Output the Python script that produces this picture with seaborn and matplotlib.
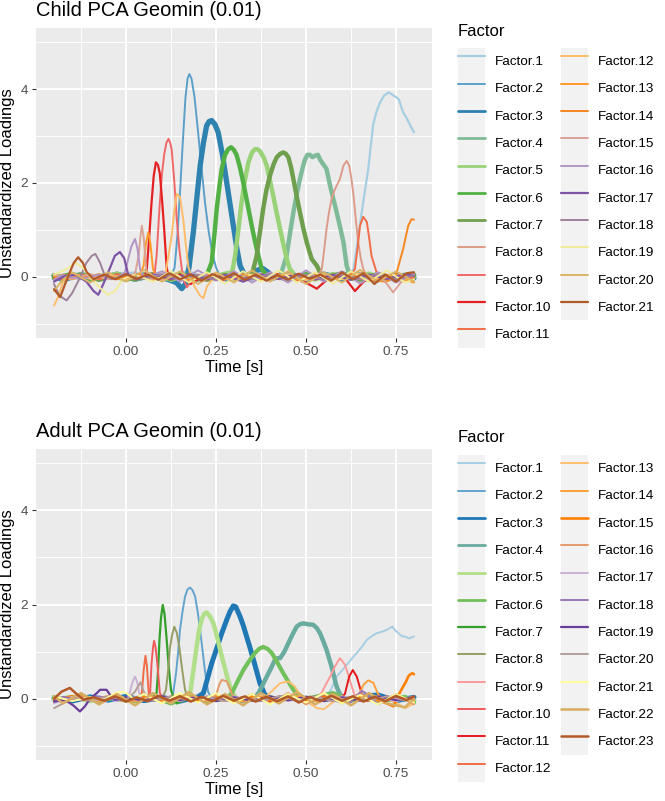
"""Child vs adult PCA Geomin loadings over time."""

import matplotlib

matplotlib.use("Agg")
import matplotlib.pyplot as plt
import numpy as np
import pandas as pd
import seaborn as sns
from matplotlib.legend_handler import HandlerTuple
from matplotlib.lines import Line2D
from matplotlib.patches import Rectangle

# ggplot "Paired" brewer palette, stretched to the number of factors
PAIRED = ["#A6CEE3", "#1F78B4", "#B2DF8A", "#33A02C", "#FB9A99", "#E31A1C",
          "#FDBF6F", "#FF7F00", "#CAB2D6", "#6A3D9A", "#FFFF99", "#B15928"]

# (time [s], loading), one list per factor
child_loadings = [
    # Factor.1
    [(-0.2, 0.05), (-0.175, -0.04), (-0.125, 0.08), (-0.075, -0.06), (-0.025, 0.04), (0.025, 0.1),
     (0.075, -0.05), (0.125, 0.06), (0.175, 0.12), (0.225, -0.04), (0.275, 0.07), (0.325, -0.06),
     (0.375, 0.09), (0.425, -0.03), (0.475, 0.06), (0.525, -0.07), (0.575, 0.05), (0.61, -0.02),
     (0.632, 0.17), (0.643, 0.75), (0.655, 1.38), (0.664, 1.85), (0.673, 2.3), (0.68, 2.8),
     (0.687, 3.26), (0.696, 3.52), (0.706, 3.72), (0.717, 3.86), (0.729, 3.93), (0.736, 3.9),
     (0.743, 3.86), (0.75, 3.83), (0.757, 3.79), (0.763, 3.66), (0.77, 3.5), (0.78, 3.38),
     (0.79, 3.22), (0.8, 3.08)],
    # Factor.2
    [(-0.2, 0.0), (-0.15, 0.07), (-0.1, -0.05), (-0.05, 0.06), (0.0, -0.04), (0.05, 0.08),
     (0.1, -0.06), (0.125, 0.02), (0.135, 0.2), (0.143, 0.9), (0.15, 1.8), (0.158, 2.9),
     (0.165, 3.8), (0.171, 4.22), (0.176, 4.32), (0.182, 4.22), (0.19, 3.85), (0.2, 3.1),
     (0.21, 2.3), (0.22, 1.55), (0.23, 0.95), (0.24, 0.5), (0.25, 0.2), (0.26, 0.03),
     (0.28, -0.1), (0.3, 0.04), (0.35, -0.06), (0.4, 0.08), (0.45, -0.05), (0.5, 0.06),
     (0.55, -0.08), (0.6, 0.05), (0.65, -0.04), (0.7, 0.08), (0.75, -0.05), (0.8, 0.03)],
    # Factor.3
    [(-0.2, 0.02), (-0.175, -0.06), (-0.125, 0.05), (-0.075, -0.04), (-0.025, 0.06), (0.025, -0.05),
     (0.075, 0.04), (0.115, -0.05), (0.14, -0.12), (0.155, -0.25), (0.165, -0.15), (0.175, 0.2),
     (0.187, 0.95), (0.197, 1.7), (0.206, 2.37), (0.215, 2.85), (0.224, 3.22), (0.231, 3.31),
     (0.238, 3.33), (0.247, 3.25), (0.256, 3.08), (0.268, 2.6), (0.28, 2.0), (0.29, 1.5),
     (0.298, 1.1), (0.308, 0.6), (0.317, 0.24), (0.33, 0.03), (0.345, 0.06), (0.36, 0.13),
     (0.38, 0.18), (0.395, 0.1), (0.41, -0.02), (0.45, 0.05), (0.5, -0.05), (0.55, 0.06),
     (0.6, -0.04), (0.65, 0.05), (0.7, -0.06), (0.75, 0.04), (0.8, -0.02)],
    # Factor.4
    [(-0.2, -0.03), (-0.15, 0.05), (-0.1, -0.06), (-0.05, 0.04), (0.0, -0.02), (0.05, 0.06),
     (0.1, -0.05), (0.15, 0.04), (0.2, -0.06), (0.25, 0.05), (0.3, -0.04), (0.35, 0.06),
     (0.4, -0.05), (0.43, 0.05), (0.446, 0.45), (0.455, 0.9), (0.465, 1.38), (0.474, 1.75),
     (0.483, 2.08), (0.49, 2.3), (0.497, 2.5), (0.504, 2.6), (0.511, 2.6), (0.518, 2.55),
     (0.525, 2.58), (0.533, 2.6), (0.539, 2.5), (0.546, 2.42), (0.557, 2.3), (0.567, 1.94),
     (0.576, 1.66), (0.585, 1.38), (0.595, 1.05), (0.604, 0.74), (0.613, 0.24), (0.622, 0.02),
     (0.65, -0.06), (0.7, 0.05), (0.75, -0.04), (0.8, 0.04)],
    # Factor.5
    [(-0.2, 0.04), (-0.175, -0.05), (-0.125, 0.06), (-0.075, -0.03), (-0.025, 0.07), (0.025, -0.05),
     (0.075, 0.05), (0.125, -0.06), (0.175, 0.04), (0.225, -0.05), (0.27, 0.06), (0.295, 0.1),
     (0.303, 0.45), (0.312, 1.0), (0.321, 1.59), (0.33, 2.05), (0.34, 2.44), (0.35, 2.65),
     (0.358, 2.72), (0.365, 2.72), (0.372, 2.68), (0.382, 2.55), (0.391, 2.37), (0.4, 2.05),
     (0.409, 1.73), (0.418, 1.38), (0.428, 1.02), (0.437, 0.7), (0.446, 0.4), (0.455, 0.17),
     (0.47, 0.03), (0.525, -0.05), (0.575, 0.06), (0.625, -0.04), (0.675, 0.07), (0.725, -0.05),
     (0.775, 0.05), (0.8, 0.0)],
    # Factor.6
    [(-0.2, -0.02), (-0.15, 0.06), (-0.1, -0.04), (-0.05, 0.05), (0.0, -0.06), (0.05, 0.04),
     (0.1, -0.05), (0.15, 0.06), (0.2, -0.03), (0.225, 0.05), (0.238, 0.31), (0.245, 0.85),
     (0.252, 1.45), (0.259, 1.9), (0.266, 2.3), (0.275, 2.6), (0.284, 2.72), (0.292, 2.76),
     (0.3, 2.7), (0.307, 2.6), (0.316, 2.35), (0.326, 2.0), (0.335, 1.65), (0.344, 1.3),
     (0.353, 0.95), (0.363, 0.6), (0.377, 0.17), (0.39, 0.04), (0.45, -0.05), (0.5, 0.06),
     (0.55, -0.04), (0.6, 0.08), (0.65, -0.05), (0.7, 0.06), (0.75, -0.04), (0.8, 0.05)],
    # Factor.7
    [(-0.2, 0.03), (-0.175, -0.04), (-0.125, 0.05), (-0.075, -0.06), (-0.025, 0.04), (0.025, -0.05),
     (0.075, 0.06), (0.125, -0.04), (0.175, 0.05), (0.225, -0.06), (0.275, 0.04), (0.325, -0.03),
     (0.35, 0.05), (0.363, 0.45), (0.372, 0.95), (0.381, 1.45), (0.39, 1.85), (0.4, 2.16),
     (0.41, 2.4), (0.419, 2.55), (0.428, 2.62), (0.437, 2.65), (0.444, 2.62), (0.451, 2.55),
     (0.458, 2.35), (0.465, 2.08), (0.474, 1.72), (0.483, 1.38), (0.493, 1.02), (0.502, 0.74),
     (0.509, 0.55), (0.516, 0.38), (0.53, 0.24), (0.539, 0.1), (0.55, 0.0), (0.6, 0.06),
     (0.65, -0.05), (0.7, 0.05), (0.75, -0.06), (0.8, 0.03)],
    # Factor.8
    [(-0.2, -0.05), (-0.15, 0.04), (-0.1, -0.02), (-0.05, 0.07), (0.0, -0.05), (0.05, 0.05),
     (0.1, -0.07), (0.15, 0.04), (0.2, -0.04), (0.25, 0.06), (0.3, -0.05), (0.35, 0.05),
     (0.4, -0.03), (0.45, 0.06), (0.5, -0.05), (0.535, 0.03), (0.544, 0.17), (0.55, 0.55),
     (0.557, 1.02), (0.564, 1.38), (0.571, 1.66), (0.578, 1.82), (0.585, 1.94), (0.594, 2.08),
     (0.6, 2.25), (0.604, 2.37), (0.613, 2.47), (0.62, 2.37), (0.626, 2.1), (0.632, 1.73),
     (0.638, 1.25), (0.645, 0.74), (0.652, 0.4), (0.659, 0.17), (0.669, 0.0), (0.7, -0.06),
     (0.75, 0.05), (0.8, -0.04)],
    # Factor.9
    [(-0.2, 0.06), (-0.175, -0.03), (-0.125, 0.05), (-0.075, -0.05), (-0.025, 0.06), (0.025, -0.04),
     (0.06, 0.05), (0.075, 0.02), (0.08, 0.1), (0.085, 0.45), (0.094, 1.59), (0.1, 2.2),
     (0.106, 2.6), (0.112, 2.85), (0.118, 2.94), (0.123, 2.85), (0.127, 2.7), (0.134, 2.05),
     (0.141, 1.23), (0.148, 0.6), (0.155, 0.17), (0.162, -0.1), (0.169, -0.22), (0.18, -0.1),
     (0.2, 0.05), (0.25, -0.06), (0.3, 0.05), (0.35, -0.04), (0.4, 0.06), (0.45, -0.05),
     (0.5, 0.04), (0.55, -0.06), (0.6, 0.05), (0.65, -0.05), (0.7, 0.06), (0.75, -0.04), (0.8, 0.05)],
    # Factor.10
    [(-0.2, -0.04), (-0.15, 0.05), (-0.1, -0.03), (-0.05, 0.06), (0.0, -0.04), (0.03, 0.05),
     (0.05, 0.02), (0.057, 0.1), (0.064, 0.8), (0.071, 1.59), (0.077, 2.15), (0.083, 2.44),
     (0.089, 2.38), (0.094, 2.2), (0.1, 1.65), (0.106, 1.02), (0.113, 0.2), (0.12, -0.05),
     (0.15, 0.05), (0.18, -0.15), (0.22, 0.04), (0.27, -0.06), (0.32, 0.05), (0.37, -0.04),
     (0.42, 0.06), (0.47, -0.05), (0.5, -0.12), (0.53, -0.25), (0.56, -0.05), (0.6, 0.06),
     (0.636, -0.3), (0.66, -0.1), (0.7, 0.05), (0.75, -0.06), (0.8, 0.04)],
    # Factor.11
    [(-0.2, 0.03), (-0.175, -0.06), (-0.125, 0.04), (-0.075, -0.05), (-0.025, 0.05), (0.025, -0.03),
     (0.075, 0.06), (0.125, -0.05), (0.175, 0.04), (0.225, -0.06), (0.275, 0.05), (0.325, -0.04),
     (0.375, 0.06), (0.425, -0.05), (0.475, 0.04), (0.525, -0.06), (0.575, 0.05), (0.62, -0.03),
     (0.636, 0.17), (0.643, 0.6), (0.65, 1.09), (0.659, 1.28), (0.669, 1.17), (0.676, 0.8),
     (0.682, 0.45), (0.696, 0.1), (0.72, -0.05), (0.76, 0.06), (0.8, -0.03)],
    # Factor.12
    [(-0.2, -0.61), (-0.19, -0.45), (-0.175, -0.1), (-0.15, 0.08), (-0.1, -0.04), (-0.05, 0.05),
     (0.0, -0.06), (0.05, 0.04), (0.1, -0.03), (0.11, 0.1), (0.118, 0.45), (0.127, 0.88),
     (0.134, 1.4), (0.141, 1.77), (0.15, 1.7), (0.159, 1.23), (0.166, 0.7), (0.173, 0.22),
     (0.19, -0.2), (0.206, -0.4), (0.215, -0.45), (0.225, -0.2), (0.25, 0.05), (0.3, -0.06),
     (0.35, 0.05), (0.4, -0.04), (0.45, 0.06), (0.5, -0.07), (0.55, 0.05), (0.6, -0.05),
     (0.65, 0.08), (0.7, -0.05), (0.75, 0.05), (0.8, -0.1)],
    # Factor.13
    [(-0.2, 0.02), (-0.15, -0.05), (-0.1, 0.05), (-0.05, -0.04), (0.0, 0.06), (0.035, -0.03),
     (0.049, 0.24), (0.055, 0.7), (0.062, 0.95), (0.068, 0.7), (0.075, 0.17), (0.085, -0.05),
     (0.125, 0.05), (0.175, -0.06), (0.225, 0.04), (0.275, -0.05), (0.325, 0.06), (0.375, -0.04),
     (0.425, 0.05), (0.475, -0.06), (0.525, 0.04), (0.575, -0.05), (0.625, 0.06), (0.675, -0.04),
     (0.725, 0.05), (0.775, -0.06), (0.8, -0.12)],
    # Factor.14
    [(-0.2, -0.04), (-0.175, 0.05), (-0.125, -0.03), (-0.075, 0.06), (-0.025, -0.05), (0.025, 0.04),
     (0.075, -0.06), (0.125, 0.05), (0.175, -0.04), (0.225, 0.06), (0.275, -0.05), (0.325, 0.04),
     (0.375, -0.06), (0.425, 0.05), (0.475, -0.04), (0.525, 0.06), (0.575, -0.05), (0.625, 0.05),
     (0.675, -0.06), (0.72, -0.1), (0.742, -0.05), (0.752, 0.1), (0.761, 0.35), (0.77, 0.6),
     (0.777, 0.85), (0.784, 1.09), (0.793, 1.23), (0.8, 1.22)],
    # Factor.15
    [(-0.2, 0.05), (-0.15, -0.04), (-0.1, 0.06), (-0.05, -0.05), (-0.01, 0.04), (0.02, 0.05),
     (0.026, 0.1), (0.035, 0.45), (0.04, 0.85), (0.044, 1.09), (0.049, 0.85), (0.053, 0.45),
     (0.057, 0.1), (0.07, -0.05), (0.1, 0.05), (0.15, -0.06), (0.2, 0.04), (0.25, -0.05),
     (0.3, 0.06), (0.35, -0.04), (0.4, 0.05), (0.45, -0.06), (0.5, 0.04), (0.55, -0.05),
     (0.6, 0.06), (0.65, -0.04), (0.7, 0.05), (0.725, -0.15), (0.742, -0.33), (0.76, -0.15),
     (0.78, 0.02), (0.8, 0.06)],
    # Factor.16
    [(-0.2, -0.06), (-0.175, 0.04), (-0.125, -0.05), (-0.075, 0.05), (-0.03, -0.04), (-0.003, 0.1),
     (0.006, 0.38), (0.015, 0.65), (0.025, 0.81), (0.032, 0.6), (0.039, 0.17), (0.05, -0.04),
     (0.1, 0.12), (0.15, -0.1), (0.2, 0.14), (0.25, -0.08), (0.3, 0.12), (0.35, -0.12),
     (0.4, 0.1), (0.45, -0.12), (0.5, 0.14), (0.55, -0.1), (0.6, 0.12), (0.65, -0.14),
     (0.7, 0.1), (0.75, -0.12), (0.8, 0.08)],
    # Factor.17
    [(-0.2, -0.1), (-0.17, 0.02), (-0.14, 0.05), (-0.11, -0.1), (-0.09, -0.3), (-0.077, -0.38),
     (-0.063, -0.15), (-0.044, 0.2), (-0.031, 0.45), (-0.017, 0.53), (-0.005, 0.4), (0.006, 0.05),
     (0.03, -0.05), (0.075, 0.05), (0.125, -0.04), (0.175, 0.06), (0.225, -0.05), (0.275, 0.04),
     (0.325, -0.1), (0.375, 0.05), (0.425, -0.04), (0.475, 0.06), (0.525, -0.05), (0.575, 0.04),
     (0.625, -0.06), (0.675, 0.05), (0.725, -0.04), (0.775, 0.06), (0.8, 0.02)],
    # Factor.18
    [(-0.2, -0.15), (-0.185, -0.4), (-0.165, -0.5), (-0.15, -0.35), (-0.13, -0.05), (-0.11, 0.3),
     (-0.095, 0.45), (-0.085, 0.49), (-0.072, 0.3), (-0.06, 0.05), (-0.04, -0.05), (0.0, 0.05),
     (0.05, -0.04), (0.1, 0.06), (0.15, -0.05), (0.2, 0.04), (0.25, -0.06), (0.3, 0.05),
     (0.35, -0.04), (0.4, 0.06), (0.45, -0.05), (0.5, 0.04), (0.55, -0.06), (0.6, 0.05),
     (0.65, -0.04), (0.7, 0.06), (0.75, -0.05), (0.8, 0.03)],
    # Factor.19
    [(-0.2, 0.05), (-0.17, 0.15), (-0.14, 0.3), (-0.12, 0.2), (-0.1, 0.0), (-0.07, -0.25),
     (-0.05, -0.38), (-0.03, -0.3), (-0.01, -0.05), (0.025, 0.05), (0.075, -0.1), (0.125, 0.12),
     (0.175, -0.12), (0.225, 0.1), (0.275, -0.14), (0.325, 0.12), (0.375, -0.1), (0.425, 0.14),
     (0.475, -0.12), (0.525, 0.1), (0.575, -0.14), (0.625, 0.12), (0.675, -0.1), (0.725, 0.14),
     (0.775, -0.12), (0.8, -0.05)],
    # Factor.20
    [(-0.2, -0.3), (-0.18, -0.1), (-0.15, 0.1), (-0.1, -0.12), (-0.05, 0.1), (0.0, -0.1),
     (0.05, 0.15), (0.1, -0.1), (0.15, 0.12), (0.2, -0.15), (0.25, 0.1), (0.3, -0.12),
     (0.35, 0.14), (0.4, -0.1), (0.45, 0.12), (0.5, -0.15), (0.55, 0.1), (0.6, -0.12),
     (0.65, 0.15), (0.7, -0.1), (0.75, 0.12), (0.8, -0.1)],
    # Factor.21
    [(-0.2, -0.26), (-0.183, -0.43), (-0.16, 0.03), (-0.145, 0.3), (-0.133, 0.42), (-0.12, 0.3),
     (-0.109, 0.1), (-0.09, -0.05), (-0.06, 0.05), (-0.03, -0.05), (0.0, 0.06), (0.03, -0.04),
     (0.06, 0.05), (0.09, -0.06), (0.12, 0.08), (0.15, -0.05), (0.18, 0.05), (0.21, -0.08),
     (0.24, 0.06), (0.27, -0.04), (0.3, 0.08), (0.33, -0.06), (0.36, 0.05), (0.39, -0.08),
     (0.42, 0.04), (0.45, -0.06), (0.48, 0.07), (0.51, -0.04), (0.54, 0.05), (0.57, -0.08),
     (0.6, 0.1), (0.63, -0.05), (0.66, 0.08), (0.69, -0.15), (0.72, 0.05), (0.75, -0.1),
     (0.78, 0.08), (0.8, 0.1)],
]
child_widths = [1.6, 1.4, 3.8, 3.2, 3.2, 3.2, 3.2, 1.4, 1.4, 1.6, 1.4,
                1.4, 1.4, 1.4, 1.4, 1.4, 1.6, 1.4, 1.4, 1.4, 1.6]

adult_loadings = [
    # Factor.1
    [(-0.2, 0.02), (-0.15, -0.04), (-0.1, 0.05), (-0.05, -0.03), (0.0, 0.04), (0.05, -0.05),
     (0.1, 0.03), (0.15, -0.04), (0.2, 0.05), (0.25, -0.03), (0.3, 0.04), (0.35, -0.05),
     (0.4, 0.03), (0.45, -0.04), (0.5, 0.05), (0.55, -0.03), (0.57, 0.2), (0.585, 0.47),
     (0.6, 0.6), (0.613, 0.72), (0.627, 0.85), (0.641, 0.97), (0.655, 1.1), (0.669, 1.25),
     (0.683, 1.33), (0.696, 1.39), (0.71, 1.42), (0.724, 1.46), (0.733, 1.5), (0.74, 1.53),
     (0.748, 1.45), (0.757, 1.39), (0.766, 1.33), (0.775, 1.32), (0.786, 1.28), (0.8, 1.32)],
    # Factor.2
    [(-0.2, -0.03), (-0.15, 0.04), (-0.1, -0.05), (-0.05, 0.03), (0.0, -0.04), (0.05, 0.05),
     (0.1, -0.03), (0.125, 0.02), (0.131, 0.12), (0.139, 0.54), (0.145, 1.0), (0.15, 1.46),
     (0.157, 1.85), (0.164, 2.17), (0.171, 2.32), (0.178, 2.36), (0.185, 2.3), (0.192, 2.17),
     (0.199, 1.85), (0.206, 1.46), (0.213, 1.0), (0.219, 0.61), (0.228, 0.15), (0.24, -0.03),
     (0.275, 0.04), (0.325, -0.05), (0.375, 0.03), (0.425, -0.04), (0.475, 0.05), (0.525, -0.03),
     (0.575, 0.04), (0.625, -0.05), (0.675, 0.03), (0.725, -0.04), (0.775, 0.05), (0.8, 0.02)],
    # Factor.3
    [(-0.2, 0.0), (-0.15, -0.05), (-0.1, 0.04), (-0.05, -0.03), (0.0, 0.05), (0.05, -0.04),
     (0.1, 0.03), (0.15, -0.05), (0.2, 0.04), (0.215, 0.12), (0.226, 0.42), (0.238, 0.75),
     (0.252, 1.07), (0.266, 1.39), (0.28, 1.68), (0.289, 1.85), (0.298, 1.97), (0.305, 1.95),
     (0.317, 1.74), (0.326, 1.55), (0.335, 1.32), (0.345, 1.07), (0.354, 0.83), (0.363, 0.58),
     (0.372, 0.33), (0.385, 0.1), (0.4, -0.02), (0.45, 0.04), (0.5, -0.05), (0.55, 0.03),
     (0.6, -0.04), (0.65, 0.05), (0.7, 0.08), (0.75, -0.04), (0.8, 0.03)],
    # Factor.4
    [(-0.2, 0.03), (-0.175, -0.04), (-0.125, 0.05), (-0.075, -0.03), (-0.025, 0.04), (0.025, -0.05),
     (0.075, 0.03), (0.125, -0.04), (0.175, 0.05), (0.225, -0.03), (0.275, 0.04), (0.325, -0.05),
     (0.355, 0.0), (0.368, 0.12), (0.38, 0.3), (0.391, 0.47), (0.403, 0.65), (0.414, 0.83),
     (0.421, 0.86), (0.428, 0.86), (0.44, 1.0), (0.451, 1.18), (0.463, 1.37), (0.474, 1.53),
     (0.483, 1.58), (0.493, 1.6), (0.505, 1.58), (0.52, 1.57), (0.53, 1.5), (0.539, 1.39),
     (0.548, 1.22), (0.557, 1.04), (0.564, 0.86), (0.571, 0.68), (0.578, 0.47), (0.585, 0.26),
     (0.594, 0.1), (0.61, -0.03), (0.65, 0.04), (0.7, -0.05), (0.75, 0.03), (0.8, -0.02)],
    # Factor.5
    [(-0.2, -0.02), (-0.15, 0.04), (-0.1, -0.05), (-0.05, 0.03), (0.0, -0.04), (0.05, 0.05),
     (0.1, -0.03), (0.15, 0.04), (0.17, 0.02), (0.178, 0.1), (0.182, 0.33), (0.189, 0.7),
     (0.196, 1.1), (0.203, 1.45), (0.21, 1.68), (0.217, 1.8), (0.224, 1.83), (0.233, 1.75),
     (0.243, 1.6), (0.254, 1.28), (0.266, 0.9), (0.278, 0.55), (0.289, 0.26), (0.298, 0.1),
     (0.31, -0.02), (0.35, 0.04), (0.4, -0.05), (0.45, 0.03), (0.5, -0.04), (0.55, 0.05),
     (0.6, -0.03), (0.65, 0.04), (0.7, -0.05), (0.75, 0.03), (0.8, -0.04)],
    # Factor.6
    [(-0.2, 0.04), (-0.175, -0.03), (-0.125, 0.05), (-0.075, -0.04), (-0.025, 0.03), (0.025, -0.05),
     (0.075, 0.04), (0.125, -0.1), (0.175, 0.04), (0.225, -0.05), (0.265, 0.03), (0.285, 0.05),
     (0.294, 0.12), (0.31, 0.37), (0.326, 0.61), (0.342, 0.8), (0.358, 0.97), (0.37, 1.06),
     (0.381, 1.1), (0.393, 1.06), (0.405, 0.97), (0.421, 0.76), (0.437, 0.54), (0.451, 0.36),
     (0.465, 0.19), (0.474, 0.1), (0.49, -0.02), (0.525, 0.04), (0.575, 0.12), (0.625, -0.04),
     (0.675, 0.05), (0.725, -0.03), (0.775, 0.04), (0.8, -0.08)],
    # Factor.7
    [(-0.2, -0.01), (-0.15, 0.05), (-0.1, -0.04), (-0.05, 0.03), (0.0, -0.05), (0.05, 0.04),
     (0.075, 0.02), (0.085, 0.12), (0.089, 0.6), (0.093, 1.25), (0.097, 1.7), (0.102, 1.99),
     (0.107, 1.8), (0.113, 1.25), (0.119, 0.65), (0.125, 0.19), (0.133, 0.0), (0.141, -0.1),
     (0.155, -0.05), (0.2, 0.04), (0.25, -0.05), (0.3, 0.03), (0.35, -0.04), (0.4, 0.05),
     (0.45, -0.03), (0.5, 0.04), (0.55, -0.05), (0.6, 0.03), (0.65, -0.04), (0.7, 0.05),
     (0.75, -0.03), (0.8, 0.02)],
    # Factor.8
    [(-0.2, 0.03), (-0.175, -0.04), (-0.125, 0.04), (-0.075, -0.03), (-0.025, 0.05), (0.025, -0.04),
     (0.075, 0.03), (0.1, 0.0), (0.111, 0.19), (0.117, 0.6), (0.122, 1.07), (0.128, 1.35),
     (0.134, 1.53), (0.141, 1.4), (0.148, 1.1), (0.156, 0.62), (0.164, 0.19), (0.172, 0.02),
     (0.2, -0.05), (0.25, 0.04), (0.3, -0.03), (0.35, 0.05), (0.4, -0.04), (0.45, 0.03),
     (0.5, -0.05), (0.55, 0.04), (0.6, -0.03), (0.65, 0.05), (0.7, -0.04), (0.75, 0.03), (0.8, -0.03)],
    # Factor.9
    [(-0.2, -0.04), (-0.15, 0.03), (-0.1, -0.05), (-0.05, 0.04), (0.0, -0.03), (0.05, 0.05),
     (0.1, -0.04), (0.15, 0.03), (0.2, -0.05), (0.25, 0.04), (0.3, -0.03), (0.35, 0.05),
     (0.4, -0.04), (0.45, 0.03), (0.5, -0.05), (0.53, 0.02), (0.543, 0.12), (0.555, 0.3),
     (0.567, 0.47), (0.58, 0.68), (0.594, 0.86), (0.601, 0.8), (0.608, 0.72), (0.618, 0.5),
     (0.627, 0.26), (0.636, 0.05), (0.66, -0.04), (0.7, 0.05), (0.75, -0.03), (0.8, 0.04)],
    # Factor.10
    [(-0.2, 0.02), (-0.175, -0.05), (-0.125, 0.03), (-0.075, -0.04), (-0.025, 0.05), (0.025, -0.03),
     (0.055, 0.02), (0.067, 0.12), (0.071, 0.75), (0.075, 1.08), (0.078, 1.23), (0.082, 1.1),
     (0.087, 0.75), (0.094, 0.12), (0.105, -0.04), (0.15, 0.04), (0.2, -0.05), (0.25, 0.03),
     (0.3, -0.04), (0.35, 0.05), (0.4, -0.03), (0.45, 0.04), (0.5, -0.05), (0.55, 0.03),
     (0.6, -0.04), (0.65, 0.05), (0.7, -0.03), (0.75, 0.04), (0.8, -0.02)],
    # Factor.11
    [(-0.2, -0.03), (-0.15, 0.04), (-0.1, -0.02), (-0.05, 0.05), (0.0, -0.04), (0.05, 0.03),
     (0.1, -0.05), (0.15, 0.04), (0.2, -0.03), (0.25, 0.05), (0.3, -0.04), (0.35, 0.03),
     (0.4, -0.05), (0.45, 0.04), (0.5, -0.03), (0.55, 0.05), (0.59, -0.02), (0.608, 0.1),
     (0.62, 0.47), (0.63, 0.61), (0.641, 0.47), (0.655, 0.1), (0.67, -0.05), (0.7, 0.04),
     (0.75, -0.03), (0.8, 0.03)],
    # Factor.12
    [(-0.2, 0.04), (-0.175, -0.03), (-0.125, 0.05), (-0.075, -0.04), (-0.025, 0.03), (0.03, -0.02),
     (0.044, 0.12), (0.049, 0.6), (0.054, 0.91), (0.058, 0.7), (0.063, 0.12), (0.075, -0.04),
     (0.125, 0.05), (0.175, -0.03), (0.225, 0.04), (0.275, -0.05), (0.325, 0.03), (0.375, -0.04),
     (0.425, 0.05), (0.475, -0.03), (0.525, 0.04), (0.575, -0.05), (0.625, 0.03), (0.675, -0.04),
     (0.725, 0.05), (0.775, -0.03), (0.8, 0.02)],
    # Factor.13
    [(-0.2, -0.08), (-0.15, 0.05), (-0.1, -0.04), (-0.05, 0.06), (0.0, -0.05), (0.05, 0.04),
     (0.1, -0.06), (0.15, 0.05), (0.2, -0.04), (0.25, 0.06), (0.3, -0.05), (0.35, 0.04),
     (0.39, 0.05), (0.409, 0.19), (0.428, 0.33), (0.451, 0.37), (0.469, 0.26), (0.485, 0.05),
     (0.51, -0.1), (0.53, -0.2), (0.55, -0.22), (0.57, -0.1), (0.6, 0.05), (0.65, -0.05),
     (0.7, 0.06), (0.75, -0.08), (0.775, -0.2), (0.8, -0.1)],
    # Factor.14
    [(-0.2, 0.05), (-0.175, -0.04), (-0.125, 0.06), (-0.075, -0.05), (-0.025, 0.04), (0.025, -0.06),
     (0.075, 0.05), (0.125, -0.04), (0.175, 0.06), (0.225, -0.05), (0.275, 0.04), (0.325, -0.06),
     (0.375, 0.05), (0.425, -0.04), (0.475, 0.06), (0.525, -0.05), (0.575, 0.04), (0.62, -0.06),
     (0.645, 0.05), (0.66, 0.3), (0.673, 0.39), (0.687, 0.34), (0.7, 0.1), (0.715, -0.05),
     (0.75, 0.04), (0.8, -0.05)],
    # Factor.15
    [(-0.2, -0.02), (-0.15, 0.05), (-0.1, -0.04), (-0.05, 0.03), (0.0, -0.05), (0.05, 0.04),
     (0.1, -0.03), (0.15, 0.05), (0.2, -0.04), (0.25, 0.03), (0.3, -0.05), (0.35, 0.04),
     (0.4, -0.03), (0.45, 0.05), (0.5, -0.04), (0.55, 0.03), (0.6, -0.05), (0.65, 0.04),
     (0.7, -0.03), (0.725, -0.1), (0.743, -0.16), (0.752, 0.0), (0.762, 0.15), (0.77, 0.26),
     (0.777, 0.35), (0.784, 0.47), (0.79, 0.52), (0.796, 0.54), (0.8, 0.52)],
    # Factor.16
    [(-0.2, 0.03), (-0.175, -0.05), (-0.125, 0.04), (-0.075, -0.03), (-0.025, 0.05), (0.025, -0.04),
     (0.075, 0.03), (0.125, -0.05), (0.175, 0.04), (0.22, -0.03), (0.245, 0.05), (0.252, 0.12),
     (0.259, 0.3), (0.266, 0.4), (0.28, 0.37), (0.287, 0.25), (0.294, 0.1), (0.31, -0.04),
     (0.35, 0.1), (0.4, -0.1), (0.45, 0.12), (0.5, -0.12), (0.55, 0.1), (0.6, -0.1),
     (0.65, 0.12), (0.7, -0.1), (0.75, 0.1), (0.8, -0.12)],
    # Factor.17
    [(-0.2, -0.1), (-0.15, 0.04), (-0.1, -0.05), (-0.05, 0.03), (-0.01, -0.04), (0.006, 0.05),
     (0.011, 0.15), (0.018, 0.35), (0.025, 0.47), (0.031, 0.35), (0.037, 0.12), (0.045, -0.03),
     (0.1, 0.04), (0.15, -0.05), (0.2, 0.03), (0.25, -0.04), (0.3, 0.05), (0.35, -0.03),
     (0.4, 0.04), (0.45, -0.05), (0.5, 0.03), (0.55, -0.04), (0.6, 0.05), (0.65, -0.03),
     (0.7, 0.04), (0.75, -0.05), (0.8, 0.03)],
    # Factor.18
    [(-0.2, -0.05), (-0.175, 0.04), (-0.125, -0.03), (-0.075, 0.05), (-0.025, -0.04), (0.025, 0.03),
     (0.075, -0.05), (0.125, 0.04), (0.175, -0.03), (0.225, 0.05), (0.275, -0.04), (0.325, 0.03),
     (0.375, -0.05), (0.425, 0.04), (0.475, -0.03), (0.525, 0.05), (0.575, -0.04), (0.605, 0.0),
     (0.622, -0.09), (0.64, 0.05), (0.655, 0.17), (0.67, 0.1), (0.685, -0.02), (0.701, -0.12),
     (0.72, -0.03), (0.75, 0.04), (0.8, -0.02)],
    # Factor.19
    [(-0.2, -0.06), (-0.17, -0.02), (-0.145, -0.15), (-0.128, -0.27), (-0.114, -0.16), (-0.1, 0.0),
     (-0.081, 0.12), (-0.072, 0.19), (-0.054, 0.19), (-0.044, 0.08), (-0.03, -0.02), (0.0, 0.03),
     (0.05, -0.04), (0.1, 0.05), (0.15, -0.03), (0.2, 0.04), (0.25, -0.05), (0.3, 0.03),
     (0.35, -0.04), (0.4, 0.05), (0.45, -0.03), (0.5, 0.04), (0.55, -0.05), (0.6, 0.03),
     (0.65, -0.04), (0.7, 0.05), (0.75, -0.03), (0.8, 0.02)],
    # Factor.20
    [(-0.2, -0.2), (-0.175, -0.1), (-0.15, 0.02), (-0.1, -0.04), (-0.05, 0.05), (0.0, -0.03),
     (0.025, 0.15), (0.04, 0.35), (0.052, 0.1), (0.075, -0.04), (0.125, 0.05), (0.175, -0.03),
     (0.225, 0.04), (0.275, -0.05), (0.325, 0.03), (0.375, -0.04), (0.425, 0.05), (0.475, -0.03),
     (0.525, 0.04), (0.575, -0.05), (0.625, 0.03), (0.675, -0.04), (0.725, 0.05), (0.775, -0.03),
     (0.8, 0.02)],
    # Factor.21
    [(-0.2, 0.05), (-0.15, -0.05), (-0.1, 0.03), (-0.06, -0.02), (-0.03, 0.12), (-0.01, 0.15),
     (0.005, 0.1), (0.02, 0.0), (0.05, 0.1), (0.1, -0.1), (0.15, 0.12), (0.2, -0.08),
     (0.25, 0.12), (0.3, -0.1), (0.35, 0.1), (0.4, -0.12), (0.45, 0.1), (0.5, -0.08),
     (0.55, 0.12), (0.6, -0.1), (0.65, 0.08), (0.7, -0.12), (0.75, 0.1), (0.8, -0.08)],
    # Factor.22
    [(-0.2, 0.05), (-0.175, -0.1), (-0.125, 0.12), (-0.075, -0.12), (-0.025, 0.1), (0.025, -0.14),
     (0.075, 0.12), (0.125, -0.1), (0.175, 0.14), (0.225, -0.12), (0.275, 0.1), (0.325, -0.14),
     (0.375, 0.12), (0.425, -0.1), (0.475, 0.14), (0.525, -0.12), (0.575, 0.1), (0.625, -0.14),
     (0.675, 0.12), (0.725, -0.1), (0.775, -0.18), (0.8, 0.0)],
    # Factor.23
    [(-0.2, 0.0), (-0.179, 0.15), (-0.156, 0.23), (-0.137, 0.1), (-0.118, -0.02), (-0.09, 0.03),
     (-0.06, -0.04), (-0.03, 0.05), (0.0, -0.06), (0.03, 0.03), (0.06, -0.05), (0.09, 0.06),
     (0.12, -0.04), (0.15, 0.05), (0.18, -0.06), (0.21, 0.04), (0.24, -0.05), (0.27, 0.06),
     (0.3, -0.04), (0.33, 0.05), (0.36, -0.06), (0.39, 0.04), (0.42, -0.05), (0.45, 0.05),
     (0.48, -0.08), (0.51, 0.04), (0.54, -0.05), (0.57, 0.06), (0.6, -0.04), (0.63, 0.05),
     (0.66, -0.06), (0.69, 0.04), (0.72, -0.05), (0.75, 0.06), (0.78, -0.03), (0.8, 0.05)],
]
adult_widths = [1.4, 1.4, 3.6, 3.2, 3.2, 3.0, 1.6, 1.4, 1.4, 1.4, 1.4, 1.4,
                1.4, 1.4, 1.9, 1.4, 1.4, 1.4, 1.6, 1.4, 1.4, 1.8, 1.8]

FIG_W, FIG_H = 665, 801


def _ramp(n: int) -> list:
    """colorRampPalette(brewer 'Paired')(n) — linear RGB interpolation."""
    rgb = np.array([[int(h[i:i + 2], 16) / 255 for i in (1, 3, 5)] for h in PAIRED])
    pos = np.linspace(0, len(PAIRED) - 1, n)
    idx = np.arange(len(PAIRED))
    return [tuple(np.interp(p, idx, rgb[:, c]) for c in range(3)) for p in pos]


def _long_form(loadings: list) -> pd.DataFrame:
    rows = []
    for i, pts in enumerate(loadings, start=1):
        for t, v in pts:
            rows.append({"factor": f"Factor.{i}", "time": t, "loading": v})
    return pd.DataFrame(rows)


def draw_panel(fig, top_px, bottom_px, title, loadings, widths, legend_top_px):
    ax = fig.add_axes([36 / FIG_W, 1 - bottom_px / FIG_H, (432 - 36) / FIG_W, (bottom_px - top_px) / FIG_H])
    names = [f"Factor.{i}" for i in range(1, len(loadings) + 1)]
    colors = _ramp(len(names))
    df = _long_form(loadings)

    sns.lineplot(
        data=df, x="time", y="loading", hue="factor", size="factor",
        hue_order=names, size_order=names,
        palette=dict(zip(names, colors)), sizes=dict(zip(names, widths)),
        estimator=None, sort=False, legend=False, ax=ax,
    )

    ax.set_xlim(-0.25, 0.85)
    ax.set_ylim(-1.3, 5.3)
    ax.set_xticks([0, 0.25, 0.5, 0.75])
    ax.set_xticklabels(["0.00", "0.25", "0.50", "0.75"])
    ax.set_yticks([0, 2, 4])
    ax.set_yticklabels(["0", "2", "4"])
    ax.set_xticks([-0.125, 0.125, 0.375, 0.625], minor=True)
    ax.set_yticks([-1, 1, 3, 5], minor=True)
    ax.set_axisbelow(True)
    ax.grid(which="major", color="white", linewidth=1.3)
    ax.grid(which="minor", color="white", linewidth=0.65)
    ax.tick_params(which="major", length=3, width=0.8, color="#333333",
                   labelcolor="#4D4D4D", labelsize=9.7, pad=2.5,
                   bottom=True, left=True)
    ax.tick_params(which="minor", length=0)
    for spine in ax.spines.values():
        spine.set_visible(False)
    ax.set_xlabel("Time [s]", fontsize=12, labelpad=2)
    ax.set_ylabel("Unstandardized Loadings", fontsize=12, labelpad=4)
    ax.set_title(title, loc="left", fontsize=14.5, pad=8.6)

    # ggplot-style legend: grey key boxes stacked into columns
    handles = [
        (Rectangle((0, 0), 1, 1, facecolor="#F2F2F2", edgecolor="none"),
         Line2D([], [], color=c, linewidth=2.0 if w >= 3 else w))
        for c, w in zip(colors, widths)
    ]
    leg = fig.legend(
        handles, names, loc="upper left",
        bbox_to_anchor=(458 / FIG_W, 1 - legend_top_px / FIG_H),
        ncol=2, frameon=False, title="Factor", alignment="left",
        fontsize=9.7, title_fontsize=12,
        handlelength=2.0, handleheight=2.74, handletextpad=0.74,
        columnspacing=0.74, labelspacing=0, borderpad=0, borderaxespad=0,
        handler_map={tuple: HandlerTuple(ndivide=1, pad=0)},
    )
    leg._legend_box.sep = 6.5
    return ax


sns.set_theme(style="darkgrid", rc={"axes.facecolor": "#EBEBEB", "grid.color": "white",
                                    "figure.facecolor": "white", "text.color": "black",
                                    "axes.labelcolor": "black"})
plt.rcParams["font.family"] = ["Liberation Sans", "DejaVu Sans"]

fig = plt.figure(figsize=(FIG_W / 100, FIG_H / 100), dpi=100)
draw_panel(fig, 28, 338, "Child PCA Geomin (0.01)", child_loadings, child_widths, 23.5)
draw_panel(fig, 449, 760, "Adult PCA Geomin (0.01)", adult_loadings, adult_widths, 430.5)
fig.savefig("out.png", dpi=100)
plt.close(fig)
